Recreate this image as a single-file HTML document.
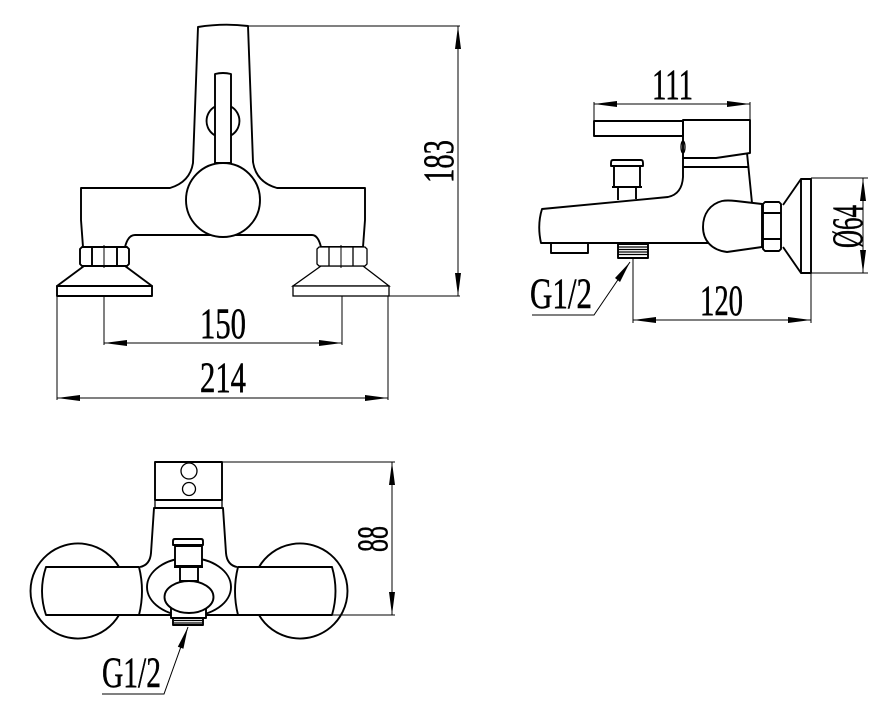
<!DOCTYPE html>
<html><head><meta charset="utf-8"><style>
html,body{margin:0;padding:0;background:#fff}
svg{display:block}
.t{stroke:#000;stroke-width:1.9;fill:none;stroke-linejoin:round}
.w{stroke:#000;stroke-width:1.9;fill:#fff;stroke-linejoin:round}
.m{stroke:#000;stroke-width:1.3;fill:none}
.mw{stroke:#000;stroke-width:1.3;fill:#fff}
.d{stroke:#000;stroke-width:1;fill:none}
.a{fill:#000;stroke:none}
text{font-family:"Liberation Serif",serif;font-size:43px;fill:#000;stroke:#000;stroke-width:.5}
</style></head><body>
<svg width="875" height="708" viewBox="0 0 875 708" xmlns="http://www.w3.org/2000/svg">
<!-- FRONT VIEW -->
<path class="w" d="M198 27Q223 23 248 26L253 162Q256 182 277 188H365V220L363 247H321Q318 235 312 235H135Q128 235 125 247H83L81 220V188H170Q190 182 193 163Z"/>
<path class="t" d="M215 106.6A16.5 16.5 0 0 0 215 135.4M231 106.6A16.5 16.5 0 0 1 231 135.4"/>
<path class="w" d="M215 163V74Q223 72 231 74V163Z"/>
<circle class="w" cx="223" cy="200" r="37"/>
<path class="w" d="M84 266L57 286H152L125 266Z"/>
<rect class="w" x="57" y="286" width="95" height="10"/>
<path class="w" d="M82 247H127L129 249V264L127 266H82L80 264V249Z"/>
<path class="t" d="M92 247V266M117 247V266"/>
<path class="d" d="M104 245V268"/>
<path class="mw" d="M321 266L293 286H389L363 266Z"/>
<rect class="mw" x="293" y="286" width="96" height="10"/>
<path class="mw" d="M319 247H365L367 249V264L365 266H319L317 264V249Z"/>
<path class="m" d="M329 247V266M353 247V266"/>
<path class="d" d="M341 245V268"/>
<!-- front dims -->
<path class="d" d="M248 26H460M389 296H460M458 26V296"/>
<path class="a" d="M458 26L461 49H455ZM458 296L455 273H461Z"/>
<path class="d" d="M104 296V345M342 296V345M104 343H342M57 296V400M388 296V400M57 398H388"/>
<path class="a" d="M104 343L127 340V346ZM342 343L319 340V346ZM57 398L80 395V401ZM388 398L365 395V401Z"/>
<text x="200" y="338" textLength="46" lengthAdjust="spacingAndGlyphs">150</text>
<text x="200" y="392" textLength="46" lengthAdjust="spacingAndGlyphs">214</text>
<text transform="translate(453,183) rotate(-90)" textLength="43" lengthAdjust="spacingAndGlyphs">183</text>
<!-- SIDE VIEW -->
<path class="t" d="M683 158V177Q682 194 668 197L542 209Q537 225 541 243H708"/>
<rect class="t" x="594" y="121" width="89" height="15"/>
<path class="t" d="M683 120H750V153L716 158H683Z"/>
<ellipse class="m" cx="683" cy="147" rx="2" ry="6"/>
<path class="t" d="M683 167H749M747 153L752 203"/>
<rect class="t" x="551" y="243" width="37" height="10"/>
<rect class="t" x="618" y="244" width="30" height="14"/>
<path class="m" d="M618 247H648M618 249.5H648M618 252H648M618 254.5H648"/>
<path class="t" d="M613 160H641Q643 160 643 163V166H611V163Q611 160 613 160ZM614 167V187H640V167M612 187H642M618 187V200M636 187V199"/>
<path class="w" d="M762 204L736 201Q727 200 722 201C710 204 703 214 703 227C703 240 711 250 727 252L762 247Z"/>
<path class="w" d="M765 202H779L781 204V249L779 251H765L763 249V204Z"/>
<path class="t" d="M763 213H781M763 239H781"/>
<path class="t" d="M783 205L801 179M783 247L801 273M801 179H811V273H801Z"/>
<path class="d" d="M594 102V121M750 102V120M594 104H750"/>
<path class="a" d="M594 104L617 101V107ZM750 104L727 101V107Z"/>
<text x="652" y="99" textLength="41" lengthAdjust="spacingAndGlyphs">111</text>
<path class="d" d="M811 178H868M811 273H868M863 178V273"/>
<path class="a" d="M863 178L866 201H860ZM863 273L860 250H866Z"/>
<text transform="translate(862,248) rotate(-90)" textLength="43" lengthAdjust="spacingAndGlyphs">Ø64</text>
<path class="d" d="M633 258V323M811 273V323M633 320H811"/>
<path class="a" d="M633 320L656 317V323ZM811 320L788 317V323Z"/>
<text x="700" y="315" textLength="43" lengthAdjust="spacingAndGlyphs">120</text>
<path class="d" d="M532 315H594L630 262"/>
<path class="a" d="M630 262L620 282L615 278Z"/>
<text x="530" y="308" textLength="62" lengthAdjust="spacingAndGlyphs">G1/2</text>
<!-- TOP VIEW -->
<path class="t" d="M119 567A47.5 47.5 0 1 0 119 615"/>
<path class="t" d="M259 567A47.5 47.5 0 1 1 259 615"/>
<path class="t" d="M46 567H139Q145 591 139 615H46Q38 591 46 567Z"/>
<path class="t" d="M238 567H332Q339 591 332 615H238Q232 591 238 567Z"/>
<path class="t" d="M139 615H238"/>
<path class="t" d="M140 567Q150 565 151 553L154 508H223L226 553Q227 565 237 567"/>
<rect class="t" x="155" y="462" width="67" height="38"/>
<circle class="m" cx="189" cy="471" r="8"/>
<circle class="m" cx="189" cy="489" r="6.5"/>
<path class="m" d="M155 500V508M222 500V508"/>
<ellipse class="t" cx="189" cy="587" rx="42" ry="29"/>
<path class="w" d="M171 608H206V618H171Z"/>
<rect class="t" x="173" y="618" width="30" height="7"/>
<path class="m" d="M174 620.5H202M174 623H202"/>
<ellipse class="w" cx="189" cy="597" rx="24.5" ry="16"/>
<path class="w" d="M180 566V581H198V566Z"/>
<path class="w" d="M175 546H202V566H175Z"/>
<path class="w" d="M175 539H201Q203 539 203 541V545H173V541Q173 539 175 539Z"/>
<path class="t" d="M174 567H203" />
<path class="d" d="M222 462H395M332 615H395M392 462V615"/>
<path class="a" d="M392 462L395 485H389ZM392 615L389 592H395Z"/>
<text transform="translate(387,552) rotate(-90)" textLength="26" lengthAdjust="spacingAndGlyphs">88</text>
<path class="d" d="M102 694H164L188 627"/>
<path class="a" d="M188 627L183.4 648.7L177.8 646.7Z"/>
<text x="102" y="687" textLength="59" lengthAdjust="spacingAndGlyphs">G1/2</text>
</svg>
</body></html>
